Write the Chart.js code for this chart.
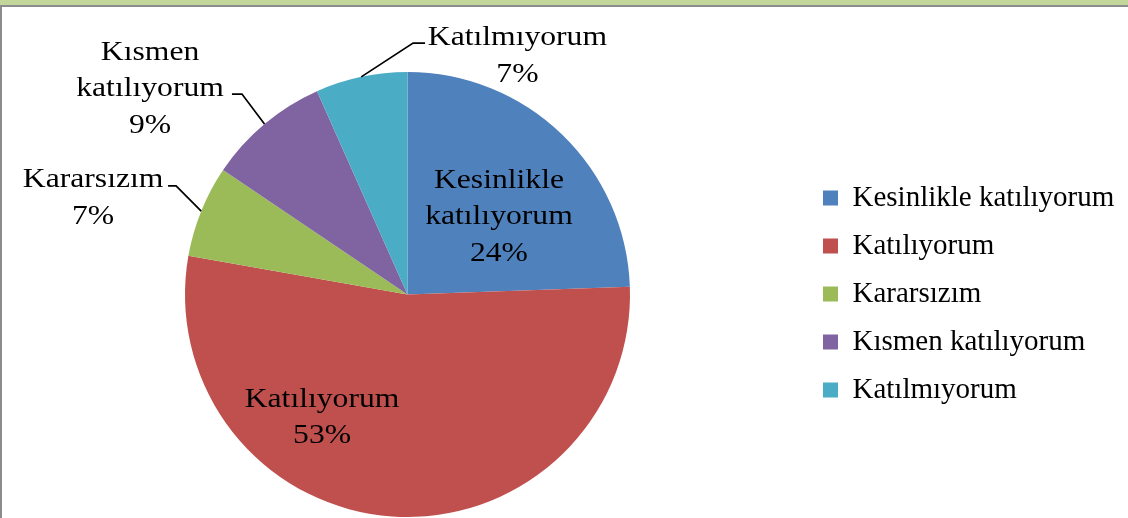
<!DOCTYPE html>
<html><head><meta charset="utf-8">
<script src="https://cdn.jsdelivr.net/npm/chart.js@4.4.0/dist/chart.umd.min.js"></script>
<style>
html,body{margin:0;padding:0;background:#fff;}
#wrap{position:relative;width:1128px;height:518px;overflow:hidden;background:#fff;}
#band{position:absolute;left:0;top:0;width:1128px;height:5px;background:#C3D69B;border-bottom:2px solid #8c8c8c;}
#lb{position:absolute;left:0;top:7px;width:2px;height:511px;background:#8c8c8c;}
canvas{position:absolute;left:0;top:0;}
</style></head><body>
<div id="wrap"><div id="band"></div><div id="lb"></div><canvas id="c" width="1128" height="518"></canvas></div>
<script>
// ---- data ----
const categories = ["Kesinlikle katılıyorum", "Katılıyorum", "Kararsızım", "Kısmen katılıyorum", "Katılmıyorum"];
const counts = [11, 24, 3, 4, 3];
const colors = ["#4F81BD", "#C0504D", "#9BBB59", "#8064A2", "#4BACC6"];

// ---- label layout (offsets in units of pie radius) ----
const labelLayout = [
  {wrap: true,  dx: 0.411, dy: -0.479, leader: null},
  {wrap: false, dx: -0.384, dy: 0.504, leader: null},
  {wrap: false, dx: -1.413, dy: -0.483, leader: [[-1.076, -0.488], [-1.040, -0.488]]},
  {wrap: true,  dx: -1.157, dy: -1.054, leader: [[-0.789, -0.901], [-0.744, -0.901]]},
  {wrap: false, dx: 0.494, dy: -1.121, leader: [[0.079, -1.130], [0.025, -1.130]]}
];
const LABEL_FONT = '28px "Liberation Serif", "Times New Roman", serif';
const LINE_H = 36.5;
const X_STRETCH = 1.13;

const pieBox = {left: 185, top: 72, right: 630, bottom: 517};
const legendLeft = 804;
const legendMid = 294;

const layoutFix = {
  id: 'layoutFix',
  afterLayout(chart) {
    chart.chartArea = {
      left: pieBox.left, top: pieBox.top, right: pieBox.right, bottom: pieBox.bottom,
      width: pieBox.right - pieBox.left, height: pieBox.bottom - pieBox.top
    };
    const lg = chart.legend;
    if (lg) {
      const dx = legendLeft - lg.left; lg.left += dx; lg.right += dx;
      const dy = legendMid - (lg.top + lg.bottom) / 2; lg.top += dy; lg.bottom += dy;
    }
  }
};

const dataLabels = {
  id: 'dataLabels',
  afterDatasetsDraw(chart) {
    const ctx = chart.ctx;
    const meta = chart.getDatasetMeta(0);
    const total = counts.reduce((a, b) => a + b, 0);
    meta.data.forEach((arc, i) => {
      const p = arc.getProps(['x', 'y', 'outerRadius', 'startAngle', 'endAngle'], true);
      const r = p.outerRadius;
      const L = labelLayout[i];
      const name = categories[i];
      const lines = L.wrap ? name.split(' ') : [name];
      lines.push(Math.round(counts[i] / total * 100) + '%');
      ctx.save();
      ctx.font = LABEL_FONT;
      ctx.fillStyle = '#000';
      ctx.textAlign = 'center';
      ctx.textBaseline = 'alphabetic';
      lines.forEach((t, k) => {
        ctx.save();
        ctx.translate(p.x + L.dx * r, p.y + L.dy * r + k * LINE_H);
        ctx.scale(X_STRETCH, 1);
        ctx.fillText(t, 0, 0);
        ctx.restore();
      });
      if (L.leader) {
        const mid = (p.startAngle + p.endAngle) / 2;
        ctx.beginPath();
        ctx.moveTo(p.x + L.leader[0][0] * r, p.y + L.leader[0][1] * r);
        ctx.lineTo(p.x + L.leader[1][0] * r, p.y + L.leader[1][1] * r);
        ctx.lineTo(p.x + Math.cos(mid) * r, p.y + Math.sin(mid) * r);
        ctx.strokeStyle = '#000';
        ctx.lineWidth = 1.7;
        ctx.stroke();
      }
      ctx.restore();
    });
  }
};

new Chart(document.getElementById('c'), {
  type: 'pie',
  data: {
    labels: categories,
    datasets: [{data: counts, backgroundColor: colors, borderWidth: 0}]
  },
  options: {
    responsive: false,
    animation: false,
    devicePixelRatio: 1,
    plugins: {
      tooltip: {enabled: false},
      legend: {
        position: 'right',
        labels: {
          color: '#000',
          boxWidth: 15,
          boxHeight: 15,
          padding: 19,
          font: {family: '"Liberation Serif", "Times New Roman", serif', size: 29}
        }
      }
    }
  },
  plugins: [layoutFix, dataLabels]
});
</script>
</body></html>
